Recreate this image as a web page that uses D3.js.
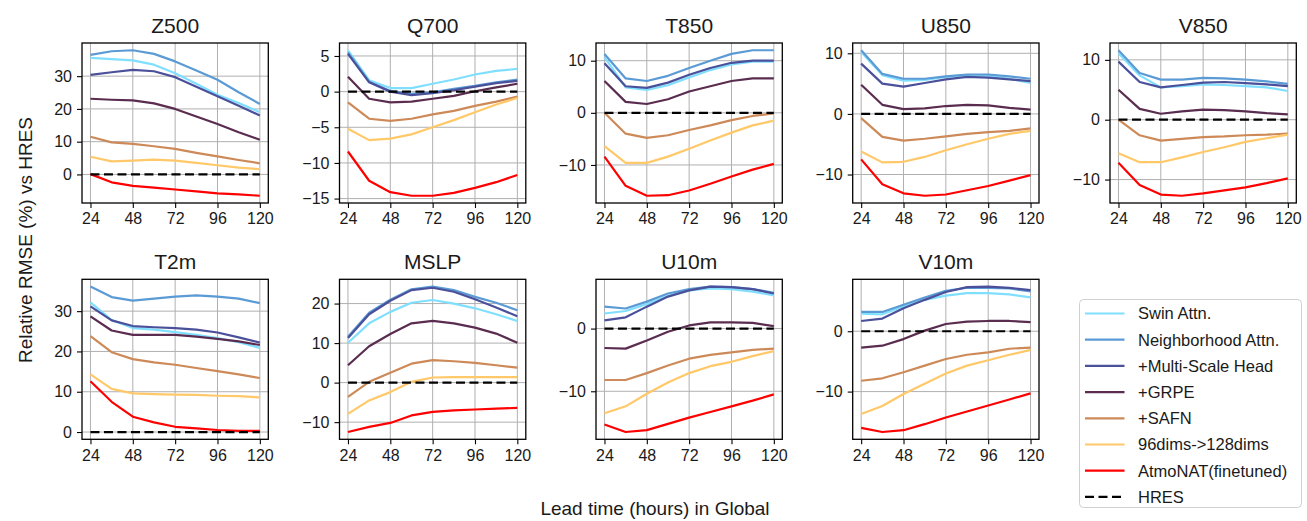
<!DOCTYPE html>
<html>
<head>
<meta charset="utf-8">
<script src="https://cdn.jsdelivr.net/npm/d3@7"></script>
<style>
  body { margin: 0; background: #fff; }
  svg { display: block; font-family: "Liberation Sans", Arial, sans-serif; }
</style>
</head>
<body>
<svg id="chart" width="1307" height="521"></svg>
<script>
// lead times (hours)
const leadTimes = [24, 36, 48, 60, 72, 84, 96, 108, 120];
const xTicks = [24, 48, 72, 96, 120];

const models = ['Swin Attn.', 'Neighborhood Attn.', '+Multi-Scale Head', '+GRPE', '+SAFN', '96dims->128dims', 'AtmoNAT(finetuned)'];
const colors = ['#80dfff', '#5b9bd5', '#4a509a', '#5a2c4f', '#cd8a58', '#ffc869', '#ff0000'];

// one row per model, in the order above
const z500 = [
  [35.6, 35.2, 34.8, 33.5, 30.9, 27.7, 24.3, 21.8, 19.0],
  [36.5, 37.6, 37.9, 36.8, 34.5, 31.7, 28.9, 25.1, 21.5],
  [30.4, 31.2, 31.9, 31.5, 29.7, 26.8, 23.9, 21.0, 18.0],
  [23.1, 22.8, 22.6, 21.7, 20.0, 17.7, 15.4, 12.9, 10.6],
  [11.5, 9.8, 9.3, 8.6, 7.8, 6.6, 5.5, 4.4, 3.4],
  [5.4, 4.0, 4.2, 4.5, 4.2, 3.5, 2.8, 2.1, 1.6],
  [0.1, -2.4, -3.5, -4.0, -4.6, -5.2, -5.8, -6.1, -6.5]
];
const q700 = [
  [5.8, 1.6, 0.5, 0.5, 1.1, 1.7, 2.4, 2.9, 3.2],
  [5.5, 1.4, 0.1, -0.3, -0.1, 0.4, 0.8, 1.3, 1.7],
  [5.3, 1.3, 0.0, -0.5, -0.2, 0.2, 0.7, 1.2, 1.5],
  [2.1, -1.0, -1.5, -1.4, -1.0, -0.6, 0.05, 0.6, 1.1],
  [-1.5, -3.8, -4.1, -3.8, -3.2, -2.7, -2.0, -1.4, -0.7],
  [-5.2, -6.8, -6.6, -6.0, -5.0, -4.0, -2.9, -1.8, -0.9],
  [-8.4, -12.5, -14.1, -14.6, -14.6, -14.2, -13.5, -12.7, -11.7]
];
const t850 = [
  [10.7, 4.9, 4.4, 5.3, 6.8, 8.2, 9.3, 9.8, 9.8],
  [11.3, 6.6, 6.1, 7.1, 8.6, 10.0, 11.3, 12.0, 12.0],
  [9.5, 5.1, 4.8, 5.8, 7.3, 8.6, 9.6, 10.0, 10.0],
  [6.1, 2.1, 1.7, 2.6, 4.1, 5.1, 6.1, 6.6, 6.6],
  [0.0, -4.0, -4.8, -4.3, -3.3, -2.4, -1.4, -0.6, -0.1],
  [-6.4, -9.6, -9.6, -8.4, -6.9, -5.3, -3.8, -2.4, -1.5],
  [-8.4, -14.0, -15.9, -15.8, -14.9, -13.6, -12.2, -10.9, -9.8]
];
const u850 = [
  [10.2, 6.4, 5.5, 5.6, 6.1, 6.4, 6.3, 5.8, 5.1],
  [10.5, 6.6, 5.8, 5.8, 6.2, 6.5, 6.5, 6.2, 5.8],
  [8.3, 5.0, 4.5, 5.1, 5.7, 6.1, 6.0, 5.7, 5.4],
  [4.8, 1.5, 0.8, 0.9, 1.3, 1.5, 1.4, 1.0, 0.7],
  [-0.7, -3.8, -4.4, -4.1, -3.7, -3.3, -3.0, -2.8, -2.4],
  [-6.2, -8.0, -7.9, -7.1, -6.0, -5.0, -4.1, -3.3, -2.8],
  [-7.5, -11.6, -13.1, -13.5, -13.3, -12.6, -11.9, -11.0, -10.1]
];
const v850 = [
  [11.1, 7.4, 5.4, 5.6, 5.9, 5.8, 5.6, 5.4, 4.8],
  [11.6, 7.8, 6.7, 6.7, 7.0, 6.9, 6.7, 6.4, 6.0],
  [9.7, 6.3, 5.4, 5.8, 6.2, 6.3, 6.1, 5.9, 5.6],
  [5.0, 1.8, 1.0, 1.4, 1.7, 1.6, 1.4, 1.1, 0.9],
  [0.0, -2.6, -3.5, -3.2, -2.9, -2.8, -2.6, -2.5, -2.3],
  [-5.6, -7.1, -7.1, -6.3, -5.4, -4.6, -3.7, -3.1, -2.5],
  [-7.2, -10.9, -12.5, -12.7, -12.3, -11.8, -11.3, -10.6, -9.8]
];
const t2m = [
  [32.2, 27.8, 25.8, 25.4, 24.8, 24.1, 23.3, 22.3, 20.9],
  [36.1, 33.5, 32.6, 33.1, 33.6, 33.9, 33.6, 33.1, 32.0],
  [31.2, 27.7, 26.3, 26.0, 25.8, 25.4, 24.7, 23.5, 22.2],
  [28.7, 25.2, 24.1, 24.1, 24.1, 23.7, 23.1, 22.5, 21.6],
  [23.8, 19.8, 18.1, 17.3, 16.7, 15.9, 15.1, 14.3, 13.4],
  [14.3, 10.7, 9.6, 9.4, 9.3, 9.2, 9.0, 8.9, 8.6],
  [12.6, 7.5, 3.8, 2.4, 1.3, 0.9, 0.5, 0.3, 0.3]
];
const mslp = [
  [10.1, 15.0, 17.9, 20.2, 20.9, 20.0, 18.8, 17.3, 15.6],
  [11.6, 17.7, 21.0, 23.6, 24.3, 23.4, 21.7, 20.2, 18.3],
  [11.3, 17.3, 20.7, 23.4, 24.0, 23.0, 21.1, 19.0, 16.8],
  [4.4, 9.2, 12.3, 15.0, 15.6, 15.0, 13.9, 12.4, 10.1],
  [-3.6, 0.2, 2.5, 4.8, 5.7, 5.4, 5.0, 4.4, 3.8],
  [-7.9, -4.5, -2.4, 0.2, 1.3, 1.4, 1.4, 1.4, 1.4],
  [-12.5, -11.2, -10.2, -8.3, -7.4, -7.0, -6.8, -6.6, -6.4]
];
const u10m = [
  [2.4, 2.8, 3.9, 5.2, 6.1, 6.4, 6.3, 5.9, 5.3],
  [3.5, 3.2, 4.3, 5.6, 6.3, 6.7, 6.6, 6.3, 5.7],
  [1.3, 1.8, 3.5, 5.1, 6.1, 6.7, 6.6, 6.3, 5.6],
  [-3.1, -3.2, -1.9, -0.5, 0.5, 1.0, 1.0, 0.9, 0.4],
  [-8.2, -8.2, -7.1, -5.9, -4.8, -4.2, -3.8, -3.4, -3.2],
  [-13.5, -12.4, -10.4, -8.6, -7.1, -6.0, -5.3, -4.4, -3.6],
  [-15.3, -16.5, -16.2, -15.2, -14.2, -13.3, -12.4, -11.5, -10.5]
];
const v10m = [
  [2.9, 2.8, 4.1, 5.2, 5.9, 6.3, 6.3, 6.1, 5.6],
  [3.2, 3.2, 4.4, 5.6, 6.7, 7.2, 7.2, 7.1, 6.6],
  [1.7, 2.1, 3.8, 5.2, 6.5, 7.3, 7.4, 7.2, 6.8],
  [-2.7, -2.4, -1.3, 0.1, 1.2, 1.6, 1.7, 1.7, 1.5],
  [-8.2, -7.8, -6.8, -5.7, -4.6, -3.9, -3.5, -2.9, -2.7],
  [-13.7, -12.4, -10.4, -8.7, -7.0, -5.7, -4.8, -3.9, -3.1],
  [-16.0, -16.7, -16.4, -15.4, -14.3, -13.3, -12.3, -11.3, -10.3]
];

const panels = [
  { title: 'Z500', data: z500, ticks: [0, 10, 20, 30] },
  { title: 'Q700', data: q700, ticks: [-15, -10, -5, 0, 5] },
  { title: 'T850', data: t850, ticks: [-10, 0, 10] },
  { title: 'U850', data: u850, ticks: [-10, 0, 10] },
  { title: 'V850', data: v850, ticks: [-10, 0, 10] },
  { title: 'T2m', data: t2m, ticks: [0, 10, 20, 30] },
  { title: 'MSLP', data: mslp, ticks: [-10, 0, 10, 20] },
  { title: 'U10m', data: u10m, ticks: [-10, 0] },
  { title: 'V10m', data: v10m, ticks: [-10, 0] }
];

const svg = d3.select('#chart');

// subplot geometry
const colLeft = [82, 339.5, 596, 852.7, 1110];
const rowTop = [43, 279.3];
const pw = 186.3, ph = 160;

panels.forEach((p, i) => {
  const row = Math.floor(i / 5), col = i % 5;
  const g = svg.append('g').attr('transform', `translate(${colLeft[col]},${rowTop[row]})`);

  const x = d3.scaleLinear().domain([24 - 4.8, 120 + 4.8]).range([0, pw]);
  const all = p.data.flat().concat([0]);
  const lo = d3.min(all), hi = d3.max(all), pad = (hi - lo) * 0.05;
  const y = d3.scaleLinear().domain([lo - pad, hi + pad]).range([ph, 0]);

  // grid
  g.append('g').selectAll('line').data(xTicks).join('line')
    .attr('x1', d => x(d)).attr('x2', d => x(d)).attr('y1', 0).attr('y2', ph)
    .attr('stroke', '#b0b0b0').attr('stroke-width', 1);
  g.append('g').selectAll('line').data(p.ticks).join('line')
    .attr('y1', d => y(d)).attr('y2', d => y(d)).attr('x1', 0).attr('x2', pw)
    .attr('stroke', '#b0b0b0').attr('stroke-width', 1);

  const line = d3.line().x((d, j) => x(leadTimes[j])).y(d => y(d));

  g.append('g').selectAll('path').data(p.data).join('path')
    .attr('d', line)
    .attr('fill', 'none')
    .attr('stroke', (d, j) => colors[j])
    .attr('stroke-width', 2.2)
    .attr('stroke-linejoin', 'round');

  // HRES baseline
  g.append('path')
    .attr('d', line(leadTimes.map(() => 0)))
    .attr('fill', 'none').attr('stroke', '#000')
    .attr('stroke-width', 2.2).attr('stroke-dasharray', '9,4.5');

  // axes
  const xa = g.append('g').attr('transform', `translate(0,${ph})`)
    .call(d3.axisBottom(x).tickValues(xTicks).tickSize(5).tickPadding(5));
  const ya = g.append('g')
    .call(d3.axisLeft(y).tickValues(p.ticks).tickSize(5).tickPadding(5));
  [xa, ya].forEach(a => {
    a.select('.domain').remove();
    a.selectAll('.tick line').attr('stroke', '#000').attr('stroke-width', 1.1);
    a.selectAll('.tick text').attr('font-size', 16).attr('fill', '#1a1a1a')
      .attr('font-family', '"Liberation Sans", Arial, sans-serif');
  });

  g.append('rect').attr('width', pw).attr('height', ph)
    .attr('fill', 'none').attr('stroke', '#000').attr('stroke-width', 1.3);

  g.append('text').attr('x', pw / 2).attr('y', -10.5)
    .attr('text-anchor', 'middle').attr('font-size', 21).attr('fill', '#1a1a1a')
    .text(p.title);
});

// axis labels
svg.append('text')
  .attr('transform', 'translate(32,240) rotate(-90)')
  .attr('text-anchor', 'middle').attr('font-size', 19).attr('fill', '#1a1a1a')
  .text('Relative RMSE (%) vs HRES');
svg.append('text')
  .attr('x', 655).attr('y', 515)
  .attr('text-anchor', 'middle').attr('font-size', 19).attr('fill', '#1a1a1a')
  .text('Lead time (hours) in Global');

// legend
const legendItems = models.map((m, i) => ({ name: m, color: colors[i], dash: null }))
  .concat([{ name: 'HRES', color: '#000', dash: '9,4.5' }]);
const lg = svg.append('g').attr('transform', 'translate(1079.5,299.5)');
lg.append('rect').attr('width', 222).attr('height', 208).attr('rx', 4)
  .attr('fill', '#fff').attr('stroke', '#d0d0d0').attr('stroke-width', 1);
const li = lg.selectAll('g.item').data(legendItems).join('g')
  .attr('class', 'item')
  .attr('transform', (d, i) => `translate(0,${14 + i * 26.2})`);
li.append('line').attr('x1', 5.5).attr('x2', 45)
  .attr('stroke', d => d.color).attr('stroke-width', 2.2)
  .attr('stroke-dasharray', d => d.dash);
li.append('text').attr('x', 58.5).attr('y', 5.8)
  .attr('font-size', 16.5).attr('fill', '#1a1a1a')
  .text(d => d.name);
</script>
</body>
</html>
